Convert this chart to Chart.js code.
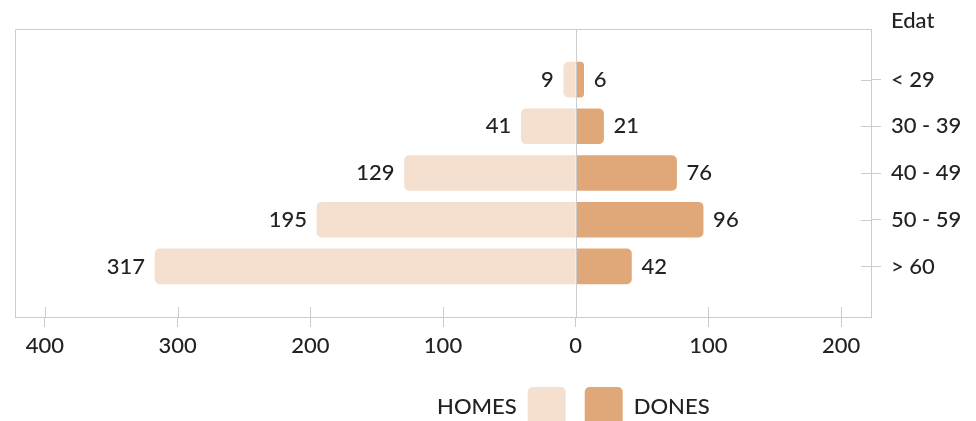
<!DOCTYPE html>
<html>
<head>
<meta charset="utf-8">
<script src="https://cdn.jsdelivr.net/npm/chart.js@4"></script>
<style>
  body { margin: 0; background: #fff; }
</style>
</head>
<body>
<canvas id="myChart" width="976" height="421"></canvas>
<script>
const categories = ['< 29', '30 - 39', '40 - 49', '50 - 59', '> 60'];
const homes = [9, 41, 129, 195, 317];
const dones = [6, 21, 76, 96, 42];
const xTicks = [-400, -300, -200, -100, 0, 100, 200];
const seriesNames = ['HOMES', 'DONES'];
const barColors = ['#F5E0D0', '#E0A878'];

const FONT = 'Lato, "Open Sans", sans-serif';
const WEIGHT = '500';
const TEXT = '#222';
const LINE = '#cccccc';

// frame, inner tick stubs, zero line, value labels, axis title and legend
const extras = {
  id: 'extras',
  afterDatasetsDraw(chart) {
    const ctx = chart.ctx;
    const a = chart.chartArea;
    const xs = chart.scales.x;
    const ys = chart.scales.y;
    ctx.save();
    ctx.strokeStyle = LINE;
    ctx.lineWidth = 1;
    ctx.beginPath();
    ctx.moveTo(a.left + 0.5, a.bottom);
    ctx.lineTo(a.left + 0.5, a.top + 0.5);
    ctx.lineTo(a.right, a.top + 0.5);
    const z = Math.round(xs.getPixelForValue(0)) + 0.5;
    ctx.moveTo(z, a.top);
    ctx.lineTo(z, a.bottom);
    xs.ticks.forEach(t => {
      const px = Math.round(xs.getPixelForValue(t.value)) + 0.5;
      ctx.moveTo(px, a.bottom - 10);
      ctx.lineTo(px, a.bottom);
    });
    ys.ticks.forEach(t => {
      const py = Math.round(ys.getPixelForValue(t.value)) + 0.5;
      ctx.moveTo(a.right - 10, py);
      ctx.lineTo(a.right, py);
    });
    ctx.stroke();

    ctx.fillStyle = TEXT;
    ctx.font = WEIGHT + ' 22px ' + FONT;
    ctx.textBaseline = 'middle';
    chart.data.datasets.forEach((ds, di) => {
      const meta = chart.getDatasetMeta(di);
      meta.data.forEach((bar, i) => {
        const v = di === 0 ? homes[i] : dones[i];
        if (di === 0) {
          ctx.textAlign = 'right';
          ctx.fillText(String(v), bar.x - 10, bar.y);
        } else {
          ctx.textAlign = 'left';
          ctx.fillText(String(v), bar.x + 10, bar.y);
        }
      });
    });

    // axis title
    ctx.textAlign = 'left';
    ctx.fillText('Edat', ys.left + 20, 21);

    // legend
    const zx = xs.getPixelForValue(0);
    const boxW = 38, boxH = 38, top = 387;
    const b1 = zx - 48, b2 = zx + 9;
    [b1, b2].forEach((bx, k) => {
      ctx.fillStyle = barColors[k];
      ctx.beginPath();
      ctx.roundRect(bx, top, boxW, boxH, 5);
      ctx.fill();
    });
    ctx.fillStyle = TEXT;
    ctx.textBaseline = 'middle';
    ctx.textAlign = 'right';
    ctx.fillText(seriesNames[0], b1 - 11, 407);
    ctx.textAlign = 'left';
    ctx.fillText(seriesNames[1], b2 + boxW + 11, 407);
    ctx.restore();
  }
};

new Chart(document.getElementById('myChart').getContext('2d'), {
  type: 'bar',
  data: {
    datasets: [
      {
        label: seriesNames[0],
        data: categories.map((c, i) => ({ x: -homes[i], y: i })),
        backgroundColor: barColors[0],
        grouped: false,
        barThickness: 35,
        borderRadius: 5,
        borderSkipped: 'start'
      },
      {
        label: seriesNames[1],
        data: categories.map((c, i) => ({ x: dones[i], y: i })),
        backgroundColor: barColors[1],
        grouped: false,
        barThickness: 35,
        borderRadius: 5,
        borderSkipped: 'start'
      }
    ]
  },
  options: {
    indexAxis: 'y',
    responsive: false,
    animation: false,
    layout: { padding: { left: 15, top: 29, right: 0, bottom: 0 } },
    plugins: {
      legend: { display: false },
      tooltip: { enabled: false }
    },
    scales: {
      x: {
        type: 'linear',
        min: -422.5,
        max: 222.5,
        afterBuildTicks: s => { s.ticks = xTicks.map(v => ({ value: v })); },
        afterFit: s => { s.height = 104; },
        ticks: {
          callback: v => String(Math.abs(v)),
          color: TEXT,
          font: { family: FONT, size: 22, weight: WEIGHT },
          padding: 6,
          maxRotation: 0
        },
        grid: {
          color: 'transparent',
          tickColor: LINE,
          tickLength: 10,
          drawOnChartArea: false
        },
        border: { color: LINE }
      },
      y: {
        type: 'linear',
        position: 'right',
        reverse: true,
        offset: false,
        min: -1.083,
        max: 5.083,
        afterBuildTicks: s => { s.ticks = categories.map((c, i) => ({ value: i })); },
        afterFit: s => { s.width = 105; },
        ticks: {
          callback: v => categories[v],
          color: TEXT,
          font: { family: FONT, size: 22, weight: WEIGHT },
          padding: 10
        },
        grid: {
          offset: false,
          drawOnChartArea: false,
          tickColor: LINE,
          tickLength: 10
        },
        border: { color: LINE }
      }
    }
  },
  plugins: [extras]
});
</script>
</body>
</html>
